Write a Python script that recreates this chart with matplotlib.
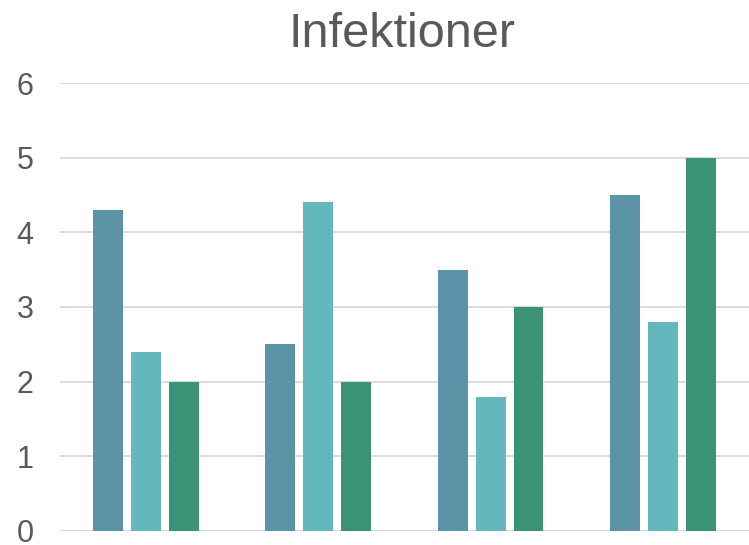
import numpy as np
import matplotlib.pyplot as plt

plt.rcParams['font.family'] = ['Liberation Sans', 'DejaVu Sans']

categories = ['1', '2', '3', '4']
serie1 = [4.3, 2.5, 3.5, 4.5]
serie2 = [2.4, 4.4, 1.8, 2.8]
serie3 = [2.0, 2.0, 3.0, 5.0]
yticks = [0, 1, 2, 3, 4, 5, 6]

colors = ['#5B94A6', '#62B8BC', '#3C9275']

fig = plt.figure(figsize=(7.49, 5.45), dpi=100)
ax = fig.add_axes([0.08, 0.0257, 0.92, 0.822])

x = np.arange(len(categories))
w = 0.174
step = 0.22
for i, (vals, c) in enumerate(zip([serie1, serie2, serie3], colors)):
    ax.bar(x + (i - 1) * step, vals, width=w, color=c, zorder=3)

ax.set_xlim(-0.5, 3.5)
ax.set_ylim(0, 6)
ax.set_yticks(yticks)
ax.set_xticks([])
ax.grid(axis='y', color='#D9D9D9', linewidth=1.3, zorder=0)
for s in ax.spines.values():
    s.set_visible(False)
ax.tick_params(axis='y', length=0, pad=19, labelsize=22, labelcolor='#595959')

fig.text(0.537, 0.913, 'Infektioner', ha='center', va='baseline', fontsize=35, color='#595959')

fig.savefig('out.png', dpi=100)
